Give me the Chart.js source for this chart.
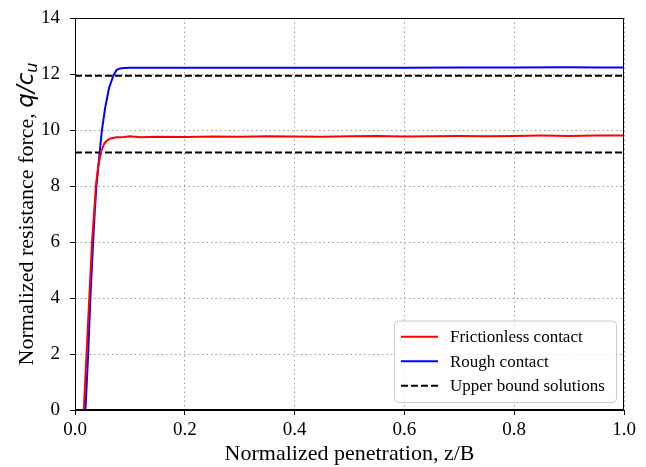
<!DOCTYPE html>
<html>
<head>
<meta charset="utf-8">
<script src="https://cdn.jsdelivr.net/npm/chart.js@4.4.0/dist/chart.umd.min.js"></script>
<style>
    html, body { margin: 0; padding: 0; background: #fff; }
    #wrap { width: 646px; height: 467px; }
</style>
</head>
<body>
<div id="wrap"><canvas id="forceChart" width="646" height="467"></canvas></div>
<script>
// values
const zFrictionless = [0.016, 0.021, 0.026, 0.031, 0.035, 0.038, 0.043, 0.048, 0.053, 0.058, 0.065, 0.075, 0.09, 0.1, 0.12, 0.15, 0.2, 0.25, 0.3, 0.35, 0.4, 0.45, 0.5, 0.55, 0.6, 0.65, 0.7, 0.75, 0.8, 0.85, 0.9, 0.95, 1.0];
const qFrictionless = [0, 2, 4, 6, 7.1, 8, 8.8, 9.25, 9.5, 9.62, 9.7, 9.74, 9.75, 9.78, 9.74, 9.76, 9.75, 9.77, 9.76, 9.78, 9.77, 9.76, 9.78, 9.79, 9.77, 9.78, 9.79, 9.78, 9.79, 9.8, 9.79, 9.8, 9.8];
const zRough = [0.019, 0.024, 0.028, 0.033, 0.036, 0.039, 0.044, 0.049, 0.055, 0.062, 0.07, 0.076, 0.082, 0.09, 0.1, 0.2, 0.3, 0.4, 0.5, 0.6, 0.7, 0.8, 0.9, 0.95, 1.0];
const qRough = [0, 2, 4, 6, 7.1, 8, 9, 10, 10.8, 11.5, 11.95, 12.15, 12.2, 12.21, 12.22, 12.22, 12.22, 12.22, 12.22, 12.22, 12.23, 12.23, 12.24, 12.23, 12.23];
const upperBounds = [11.94, 9.2];
const xTicks = [0, 0.2, 0.4, 0.6, 0.8, 1.0];
const yTicks = [0, 2, 4, 6, 8, 10, 12, 14];

const serif = '"Liberation Serif", "Times New Roman", serif';

function toPoints(xs, ys) {
    return xs.map(function (x, i) { return { x: x, y: ys[i] }; });
}

// full box round the plot, like matplotlib spines
const frameBox = {
    id: 'frameBox',
    afterDatasetsDraw(chart) {
        const a = chart.chartArea;
        const ctx = chart.ctx;
        const l = Math.round(a.left) + 0.5, t = Math.round(a.top) + 0.5;
        const r = Math.round(a.right) - 0.5, b = Math.round(a.bottom) - 0.5;
        ctx.save();
        ctx.strokeStyle = '#000';
        ctx.lineWidth = 1;
        ctx.strokeRect(l, t, r - l, b - t);
        ctx.restore();
    }
};

// y title with mixed serif text and italic math part
const yTitle = {
    id: 'yTitle',
    afterDraw(chart) {
        const ctx = chart.ctx;
        const a = chart.chartArea;
        const plain = 'Normalized resistance force, ';
        const fPlain = '22px ' + serif;
        const fMath = 'italic 23px "DejaVu Sans"';
        const fSub = 'italic 16px "DejaVu Sans"';
        ctx.save();
        ctx.font = fPlain;
        const w1 = ctx.measureText(plain).width;
        ctx.font = fMath;
        const w2 = ctx.measureText('q/c').width;
        ctx.font = fSub;
        const w3 = ctx.measureText('u').width;
        const total = w1 + w2 + w3;
        ctx.translate(33, (a.top + a.bottom) / 2);
        ctx.rotate(-Math.PI / 2);
        ctx.fillStyle = '#000';
        ctx.textBaseline = 'alphabetic';
        ctx.textAlign = 'left';
        let x = -total / 2;
        ctx.font = fPlain;
        ctx.fillText(plain, x, 0);
        x += w1;
        ctx.font = fMath;
        ctx.fillText('q/c', x, 0);
        x += w2;
        ctx.font = fSub;
        ctx.fillText('u', x, 4);
        ctx.restore();
    }
};

// legend box in the lower right corner of the plot
const cornerLegend = {
    id: 'cornerLegend',
    afterDraw(chart) {
        const ctx = chart.ctx;
        const a = chart.chartArea;
        const items = chart.data.datasets.filter(function (d) { return !d.noLegend; });
        const boxW = 222, rowH = 24.5;
        const boxH = items.length * rowH + 8;
        const x0 = Math.round(a.right) - 8 - boxW;
        const y0 = Math.round(a.bottom) - 8 - boxH;
        ctx.save();
        ctx.beginPath();
        ctx.roundRect(x0 + 0.5, y0 + 0.5, boxW, boxH, 4);
        ctx.fillStyle = 'rgba(255,255,255,0.8)';
        ctx.fill();
        ctx.strokeStyle = '#cccccc';
        ctx.lineWidth = 1;
        ctx.stroke();
        ctx.font = '17px ' + serif;
        ctx.textBaseline = 'middle';
        items.forEach(function (d, i) {
            const cy = y0 + 4 + rowH * (i + 0.5);
            ctx.beginPath();
            ctx.setLineDash(d.borderDash || []);
            ctx.strokeStyle = d.borderColor;
            ctx.lineWidth = d.borderWidth;
            ctx.moveTo(x0 + 7, cy);
            ctx.lineTo(x0 + 44, cy);
            ctx.stroke();
            ctx.setLineDash([]);
            ctx.fillStyle = '#000';
            ctx.fillText(d.label, x0 + 56, cy + 1);
        });
        ctx.restore();
    }
};

const axisGrid = {
    color: '#a0a0a0',
    tickColor: '#000',
    tickLength: 5,
    tickBorderDash: [10, 0],
    lineWidth: 1
};

const ctx = document.getElementById('forceChart');
new Chart(ctx, {
    type: 'line',
    data: {
        datasets: [
            {
                label: 'Frictionless contact',
                data: toPoints(zFrictionless, qFrictionless),
                borderColor: '#ff0000',
                borderWidth: 2,
                pointRadius: 0,
                tension: 0,
                fill: false
            },
            {
                label: 'Rough contact',
                data: toPoints(zRough, qRough),
                borderColor: '#0000ff',
                borderWidth: 2,
                pointRadius: 0,
                tension: 0,
                fill: false
            },
            {
                label: 'Upper bound solutions',
                data: toPoints([0, 1], [upperBounds[0], upperBounds[0]]),
                borderColor: '#000000',
                borderWidth: 2,
                borderDash: [7, 3],
                pointRadius: 0,
                fill: false
            },
            {
                label: 'Upper bound solutions',
                noLegend: true,
                data: toPoints([0, 1], [upperBounds[1], upperBounds[1]]),
                borderColor: '#000000',
                borderWidth: 2,
                borderDash: [7, 3],
                pointRadius: 0,
                fill: false
            }
        ]
    },
    options: {
        responsive: false,
        animation: false,
        layout: { padding: { left: 0, right: 22, top: 18, bottom: 0 } },
        plugins: {
            legend: { display: false },
            tooltip: { enabled: false }
        },
        scales: {
            x: {
                type: 'linear',
                min: 0,
                max: 1,
                afterBuildTicks: function (s) { s.ticks = xTicks.map(function (v) { return { value: v }; }); },
                afterFit: function (s) { s.height = 57; s.paddingLeft = 0; s.paddingRight = 0; },
                grid: axisGrid,
                border: { color: '#000', dash: [1.5, 3] },
                ticks: {
                    color: '#000',
                    padding: 4,
                    maxRotation: 0,
                    font: { family: serif, size: 19 },
                    callback: function (v) { return Number(v).toFixed(1); }
                },
                title: {
                    display: true,
                    text: 'Normalized penetration, z/B',
                    color: '#000',
                    padding: { top: 0, bottom: 0 },
                    font: { family: serif, size: 22 }
                }
            },
            y: {
                type: 'linear',
                min: 0,
                max: 14,
                afterBuildTicks: function (s) { s.ticks = yTicks.map(function (v) { return { value: v }; }); },
                afterFit: function (s) { s.width = 75; s.paddingTop = 0; s.paddingBottom = 0; },
                grid: axisGrid,
                border: { color: '#000', dash: [1.5, 3] },
                ticks: {
                    color: '#000',
                    padding: 10,
                    font: { family: serif, size: 19 },
                    callback: function (v) { return String(v); }
                }
            }
        }
    },
    plugins: [frameBox, yTitle, cornerLegend]
});
</script>
</body>
</html>
